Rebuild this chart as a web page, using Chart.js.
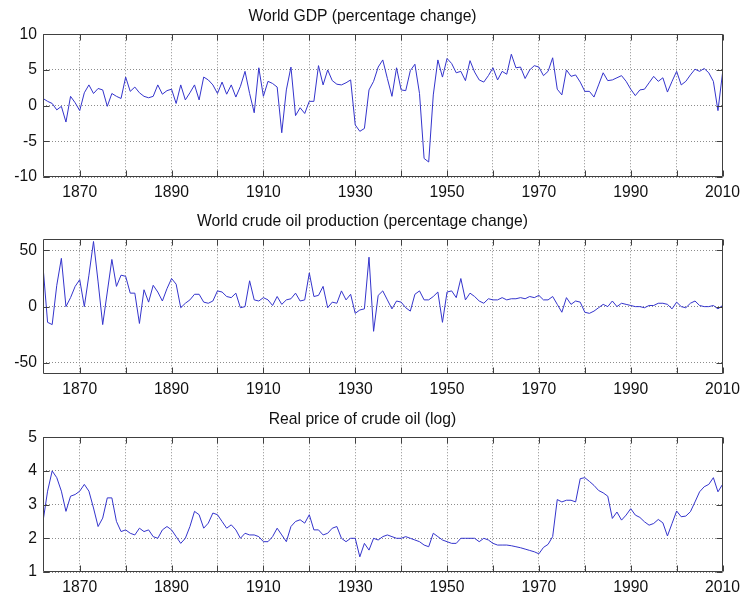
<!DOCTYPE html>
<html>
<head>
<meta charset="utf-8">
<script src="https://cdn.jsdelivr.net/npm/chart.js@4.4.1/dist/chart.umd.min.js"></script>
<style>
html,body{margin:0;padding:0;background:#fff;}
#wrap{position:relative;width:746px;height:598px;overflow:hidden;background:#fff;}
#wrap canvas{position:absolute;left:0;}
</style>
</head>
<body>
<div id="wrap">
  <canvas id="gdpChart" width="746" height="203" style="top:0px"></canvas>
  <canvas id="oilChart" width="746" height="195" style="top:205px"></canvas>
  <canvas id="priceChart" width="746" height="195" style="top:403px"></canvas>
</div>
<script>

/* ================================
   DATA (1862 - 2010)
================================ */

const firstYear = 1862;
const lastYear = 2010;

const years = [];
for (let y = firstYear; y <= lastYear; y++) years.push(y);

// x axis: grid every 10 years, label every 20
const yearTicks = [1870,1880,1890,1900,1910,1920,1930,1940,1950,1960,1970,1980,1990,2000,2010];
const yearLabels = [1870,1890,1910,1930,1950,1970,1990,2010];

const gdpTicks = [-10,-5,0,5,10];
const oilTicks = [-50,0,50];
const priceTicks = [1,2,3,4,5];

// World GDP (percentage change)
const gdpChange = [
  1.0, 0.6, 0.3, -0.6, -0.1, -2.3, 1.3, 0.4,
  -0.7, 1.8, 2.9, 1.7, 2.4, 2.2, -0.1, 1.7, 1.3, 1.0,
  4.0, 2.0, 2.6, 1.8, 1.3, 1.1, 1.3, 2.9, 1.6, 2.1,
  2.3, 0.3, 2.9, 0.8, 1.8, 2.9, 0.8, 4.0, 3.6, 2.9,
  1.7, 3.3, 1.6, 2.9, 1.2, 2.7, 4.8, 1.7, -1.0, 5.3,
  1.3, 3.4, 3.1, 2.6, -3.8, 2.2, 5.4, -1.4, -0.3, -1.1,
  0.6, 0.6, 5.6, 2.9, 5.0, 3.5, 3.0, 2.9, 3.2, 3.6,
  -2.7, -3.6, -3.2, 2.2, 3.4, 5.4, 6.4, 3.8, 1.3, 5.3,
  2.2, 2.1, 4.9, 5.8, 1.7, -7.4, -7.9, 1.5, 6.4, 4.0,
  6.6, 5.9, 4.6, 4.8, 3.5, 6.3, 4.7, 3.6, 3.3, 4.2,
  5.3, 3.6, 4.8, 4.4, 7.2, 5.3, 5.4, 3.8, 5.0, 5.6,
  5.4, 4.2, 4.8, 6.7, 2.3, 1.5, 5.0, 4.1, 4.3, 3.3,
  2.0, 2.0, 1.2, 2.9, 4.6, 3.5, 3.6, 3.9, 4.2, 3.4,
  2.3, 1.4, 2.2, 2.3, 3.2, 4.1, 3.4, 3.9, 1.9, 3.4,
  4.8, 2.9, 3.4, 4.3, 5.1, 4.8, 5.2, 4.6, 3.4, -0.7,
  4.6
];

// World crude oil production (percentage change)
const oilChange = [
  36, -14, -16, 19, 43, 0, 8, 18,
  24, 0, 28, 58, 22, -16, 13, 42, 18, 28,
  27, 12, 12, -15, 15, 4, 19, 13, 5, 16,
  25, 20, -1, 3, 6, 11, 11, 4, 3, 5,
  14, 13, 9, 8, 12, -1, 0, 23, 6, 5,
  8, 6, 1, 9, 2, 6, 7, 12, 5, 6,
  30, 9, 10, 18, -1, 4, 3, 14, 6, 11,
  -6, -3, -2, 44, -22, 10, 14, 6, -2, 5,
  4, -1, -4, 11, 14, 6, 6, 9, 13, -14,
  13, 14, 8, 25, 6, 12, 9, 5, 3, 7,
  6, 6, 8, 6, 7, 7, 8, 7, 9, 8,
  10, 6, 6, 9, 2, -5, 8, 2, 5, 4,
  -5, -6, -4, -1, 2, 0, 5, 0, 3, 2,
  1, 0, 0, -1, 1, 1, 3, 3, 2, -2,
  4, 0, -1, 3, 5, 1, 0, 0, 1, -2,
  1
];

// Real price of crude oil (log)
const logPrice = [
  2.5, 3.4, 4.0, 3.8, 3.4, 2.8, 3.25, 3.3,
  3.4, 3.6, 3.4, 2.9, 2.35, 2.6, 3.2, 3.2, 2.5, 2.2,
  2.25, 2.15, 2.1, 2.3, 2.2, 2.25, 2.05, 2.0, 2.25, 2.35,
  2.25, 2.05, 1.85, 2.0, 2.35, 2.8, 2.7, 2.3, 2.45, 2.75,
  2.7, 2.5, 2.3, 2.4, 2.25, 2.0, 2.15, 2.1, 2.1, 2.05,
  1.9, 1.9, 2.05, 2.3, 2.1, 1.9, 2.35, 2.5, 2.55, 2.45,
  2.7, 2.25, 2.25, 2.1, 2.15, 2.3, 2.35, 2.0, 1.9, 2.0,
  2.0, 1.45, 1.85, 1.65, 2.0, 1.95, 2.05, 2.1, 2.05, 2.0,
  2.0, 2.05, 2.0, 1.95, 1.9, 1.8, 1.75, 2.15, 2.05, 1.95,
  1.9, 1.85, 1.85, 2.0, 2.0, 2.0, 2.0, 1.9, 2.0, 1.95,
  1.85, 1.8, 1.8, 1.8, 1.78, 1.75, 1.72, 1.68, 1.64, 1.6,
  1.54, 1.73, 1.82, 2.05, 3.15, 3.08, 3.13, 3.13, 3.08, 3.77,
  3.8, 3.69, 3.57, 3.42, 3.35, 3.25, 2.59, 2.78, 2.54, 2.69,
  2.88, 2.69, 2.62, 2.49, 2.39, 2.44, 2.56, 2.46, 2.07, 2.44,
  2.81, 2.64, 2.66, 2.79, 3.08, 3.38, 3.53, 3.6, 3.8, 3.38,
  3.6
];


/* ================================
   SHARED STYLE
================================ */

const FONT = "'Liberation Sans', Arial, Helvetica, sans-serif";
const FONT_SIZE = 15.7;
const LINE_BLUE = "#3434cc";
const GRID_GREY = "#8c8c8c";
const FRAME_GREY = "#404040";

// box round the plot + small ticks on the inside, like matlab
const framePlugin = {
    id: "matlabFrame",
    afterDraw(chart){
        const ctx = chart.ctx;
        const a = chart.chartArea;
        const xs = chart.scales.x;
        const ys = chart.scales.y;
        const L = Math.round(a.left) + 0.5;
        const R = Math.round(a.right) - 0.5;
        const T = Math.round(a.top) + 0.5;
        const B = Math.round(a.bottom) - 0.5;
        const len = 6;

        ctx.save();
        ctx.strokeStyle = FRAME_GREY;
        ctx.lineWidth = 1;
        ctx.beginPath();
        ctx.rect(L, T, R - L, B - T);

        xs.ticks.forEach(t=>{
            const px = Math.round(xs.getPixelForValue(t.value)) + 0.5;
            ctx.moveTo(px, B); ctx.lineTo(px, B - len);
            ctx.moveTo(px, T); ctx.lineTo(px, T + len);
        });
        ys.ticks.forEach(t=>{
            const py = Math.round(ys.getPixelForValue(t.value)) + 0.5;
            ctx.moveTo(L, py); ctx.lineTo(L + len, py);
            ctx.moveTo(R, py); ctx.lineTo(R - len, py);
        });
        ctx.stroke();
        ctx.restore();
    }
};

function makePanel(canvasId, title, values, yMin, yMax, yTickList){

    const points = years.map((yr, i) => ({x: yr, y: values[i]}));

    return new Chart(document.getElementById(canvasId).getContext("2d"), {
        type: "line",
        data: {
            datasets: [{
                data: points,
                borderColor: LINE_BLUE,
                borderWidth: 1,
                pointRadius: 0,
                tension: 0,
                fill: false
            }]
        },
        options: {
            responsive: false,
            animation: false,
            devicePixelRatio: 1,
            layout: { padding: { left: 0, right: 21, top: 0, bottom: 0 } },
            plugins: {
                legend: { display: false },
                tooltip: { enabled: false },
                title: {
                    display: true,
                    text: title,
                    color: "#111",
                    font: { family: FONT, size: FONT_SIZE, weight: "normal", lineHeight: 1.2 },
                    padding: { top: 7, bottom: 8.4 }
                }
            },
            scales: {
                x: {
                    type: "linear",
                    min: firstYear,
                    max: lastYear,
                    afterBuildTicks: s => { s.ticks = yearTicks.map(v => ({value: v})); },
                    afterFit: s => { s.height = 26; },
                    grid: { color: GRID_GREY, drawTicks: false, lineWidth: 1 },
                    border: { display: false, dash: [1, 2] },
                    ticks: {
                        autoSkip: false,
                        maxRotation: 0,
                        padding: 6,
                        color: "#111",
                        font: { family: FONT, size: FONT_SIZE },
                        callback: v => yearLabels.includes(v) ? String(v) : ""
                    }
                },
                y: {
                    min: yMin,
                    max: yMax,
                    afterBuildTicks: s => { s.ticks = yTickList.map(v => ({value: v})); },
                    afterFit: s => { s.width = 43; },
                    grid: { color: GRID_GREY, drawTicks: false, lineWidth: 1 },
                    border: { display: false, dash: [1, 2] },
                    ticks: {
                        padding: 6,
                        color: "#111",
                        font: { family: FONT, size: FONT_SIZE },
                        callback: v => String(v)
                    }
                }
            }
        },
        plugins: [framePlugin]
    });
}


document.addEventListener("DOMContentLoaded", function(){

    makePanel("gdpChart", "World GDP (percentage change)", gdpChange, -10, 10, gdpTicks);
    makePanel("oilChart", "World crude oil production (percentage change)", oilChange, -60, 60, oilTicks);
    makePanel("priceChart", "Real price of crude oil (log)", logPrice, 1, 5, priceTicks);

});
</script>
</body>
</html>
